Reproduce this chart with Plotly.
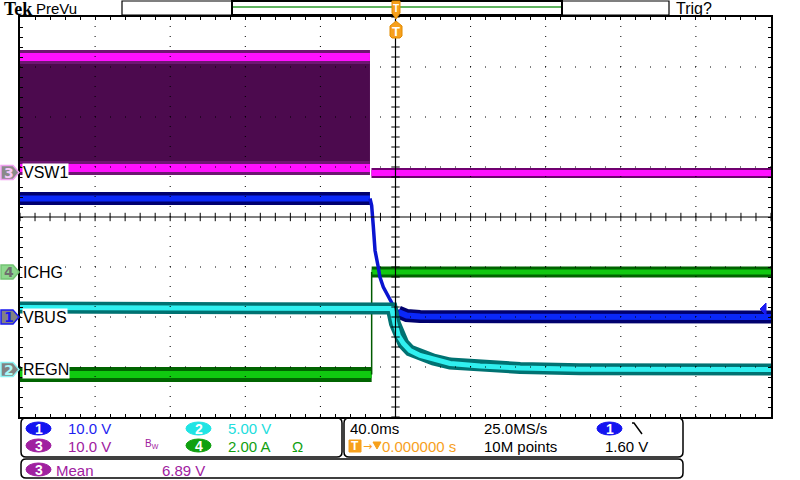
import numpy as np
import plotly.graph_objects as go

# ------------------------------------------------------------------ data
# horizontal: 40.0 ms/div, 10 divisions, trigger point at screen centre
time_range_ms = [-200.0, 200.0]
ms_per_div = 40.0

# channel settings: units per division, ground-marker position (divisions)
ch1_scale, ch1_pos = 10.0, -2.0    # CH1 VBUS   10.0 V/div
ch2_scale, ch2_pos = 5.0, -3.05    # CH2 REGN   5.00 V/div
ch3_scale, ch3_pos = 10.0, 0.89    # CH3 VSW1   10.0 V/div
ch4_scale, ch4_pos = 2.0, -1.1     # CH4 ICHG   2.00 A/div

# CH3 VSW1 : switching envelope, then switching stops
vsw_sw_t = [-200.0, -13.6]
vsw_sw_high = [23.1, 23.1]
vsw_sw_low = [0.9, 0.9]
vsw_off_t = [-12.8, 200.0]
vsw_off_v = [-0.1, -0.1]

# CH1 VBUS
vbus_pre_t = [-200.0, -13.6]
vbus_pre_v = [23.7, 23.7]
vbus_fall_t = [-13.6, -12.7, -11.8, -10.9, -9.2, -8.3, -6.5, -3.8, -1.2, 1.5, 6.0]
vbus_fall_v = [23.7, 22.3, 18.0, 13.3, 10.0, 8.0, 6.0, 4.0, 2.3, 1.0, 0.3]
vbus_post_t = [1.5, 6.0, 13.1, 200.0]
vbus_post_v = [1.0, 0.3, 0.1, 0.0]
trig_level_v = 1.60

# CH2 REGN
regn_t = [-200.0, -2.9, -2.0, -0.3, 1.5, 4.2, 7.7, 13.1, 20.2, 29.1, 45.1, 66.4, 98.4, 200.0]
regn_v = [6.2, 6.2, 6.1, 4.6, 3.4, 2.6, 1.9, 1.4, 1.0, 0.6, 0.35, 0.15, 0.03, 0.0]

# CH4 ICHG
ichg_pre_t = [-200.0, -12.7]
ichg_pre_i = [-4.1, -4.1]
ichg_post_t = [-12.7, 200.0]
ichg_post_i = [0.0, 0.0]
ichg_step_t = [-12.7, -12.7]
ichg_step_i = [-4.1, 0.0]

# ------------------------------------------------------------------ layout helpers
L, T, W, H = 20, 17, 751, 400
NARROW = "Liberation Sans Narrow, Arial Narrow, Liberation Sans, sans-serif"


def X(x):
    return (x - L) / W


def Y(y):
    return (T + H - y) / H


def to_div(vals, scale, pos):
    return [pos + v / scale for v in vals]


fig = go.Figure()


def line(t, y, color, width, name=""):
    fig.add_trace(go.Scatter(x=t, y=y, mode="lines", line=dict(color=color, width=width),
                             hoverinfo="skip", showlegend=False, name=name))


def band(t, vals, scale, pos, dark, bright, wd, wb):
    y = to_div(vals, scale, pos)
    line(t, y, dark, wd)
    line(t, y, bright, wb)


# CH3 VSW1 switching envelope (filled)
lo = to_div(vsw_sw_low, ch3_scale, ch3_pos)
hi = to_div(vsw_sw_high, ch3_scale, ch3_pos)
fig.add_trace(go.Scatter(x=vsw_sw_t, y=lo, mode="lines", line=dict(width=0, color="#4C0A4E"),
                         hoverinfo="skip", showlegend=False))
fig.add_trace(go.Scatter(x=vsw_sw_t, y=hi, mode="lines", line=dict(width=0, color="#4C0A4E"),
                         fill="tonexty", fillcolor="#4C0A4E", hoverinfo="skip", showlegend=False))
band(vsw_sw_t, vsw_sw_high, ch3_scale, ch3_pos, "#6E1672", "#FF10FF", 14, 8)
band(vsw_sw_t, vsw_sw_low, ch3_scale, ch3_pos, "#6E1672", "#FF10FF", 14, 8)
band(vsw_off_t, vsw_off_v, ch3_scale, ch3_pos, "#700070", "#FF10FF", 10, 6)

# CH4 ICHG
band(ichg_pre_t, ichg_pre_i, ch4_scale, ch4_pos, "#006400", "#10C810", 15, 7)
band(ichg_post_t, ichg_post_i, ch4_scale, ch4_pos, "#006400", "#10C810", 11, 5)
line(ichg_step_t, to_div(ichg_step_i, ch4_scale, ch4_pos), "#005A00", 1.5)

# CH1 VBUS
band(vbus_pre_t, vbus_pre_v, ch1_scale, ch1_pos, "#00006E", "#0A28F8", 13, 6)
line(vbus_fall_t, to_div(vbus_fall_v, ch1_scale, ch1_pos), "#0A14D0", 3.5)
band(vbus_post_t, vbus_post_v, ch1_scale, ch1_pos, "#00006E", "#0A28F8", 13, 6)

# CH2 REGN
band(regn_t, regn_v, ch2_scale, ch2_pos, "#007272", "#30F0F0", 12, 5)

# centre cross-hair ticks (graticule)
minor_t = np.arange(time_range_ms[0], time_range_ms[1] + 0.1, ms_per_div / 5)
minor_y = np.arange(-4.0, 4.01, 0.2)
fig.add_trace(go.Scatter(x=minor_t, y=np.zeros_like(minor_t), mode="markers",
                         marker=dict(symbol="line-ns", size=6, line=dict(color="black", width=1)),
                         hoverinfo="skip", showlegend=False))
fig.add_trace(go.Scatter(x=np.zeros_like(minor_y), y=minor_y, mode="markers",
                         marker=dict(symbol="line-ew", size=6, line=dict(color="black", width=1)),
                         hoverinfo="skip", showlegend=False))

shapes = []
annotations = []

# dotted graticule, drawn over the traces
for k in range(-4, 5):
    if k == 0:
        continue
    shapes.append(dict(type="line", xref="x", yref="y", x0=k * ms_per_div, x1=k * ms_per_div,
                       y0=-4, y1=4, layer="above", line=dict(color="black", width=1, dash="1px,9px")))
for k in range(-3, 4):
    if k == 0:
        continue
    shapes.append(dict(type="line", xref="x", yref="y", x0=time_range_ms[0], x1=time_range_ms[1],
                       y0=k, y1=k, layer="above", line=dict(color="black", width=1, dash="1px,14px")))
shapes.append(dict(type="line", xref="x", yref="y", x0=0, x1=0, y0=-4, y1=4, layer="above",
                   line=dict(color="black", width=1.2)))
shapes.append(dict(type="line", xref="x", yref="y", x0=time_range_ms[0], x1=time_range_ms[1],
                   y0=0, y1=0, layer="above", line=dict(color="black", width=1.2)))


def txt(x, y, s, color="black", size=15, family=NARROW, anchor="left", bg=None):
    a = dict(xref="paper", yref="paper", x=X(x), y=Y(y), text=s, showarrow=False,
             xanchor=anchor, yanchor="middle", font=dict(family=family, size=size, color=color),
             borderpad=0)
    if bg:
        a["bgcolor"] = bg
    annotations.append(a)


def rrect(x0, y0, x1, y1, r=5, color="black", width=1.5):
    p = (f"M {X(x0 + r)},{Y(y0)} L {X(x1 - r)},{Y(y0)} Q {X(x1)},{Y(y0)} {X(x1)},{Y(y0 + r)} "
         f"L {X(x1)},{Y(y1 - r)} Q {X(x1)},{Y(y1)} {X(x1 - r)},{Y(y1)} "
         f"L {X(x0 + r)},{Y(y1)} Q {X(x0)},{Y(y1)} {X(x0)},{Y(y1 - r)} "
         f"L {X(x0)},{Y(y0 + r)} Q {X(x0)},{Y(y0)} {X(x0 + r)},{Y(y0)} Z")
    shapes.append(dict(type="path", xref="paper", yref="paper", path=p, layer="above",
                       line=dict(color=color, width=width)))


def oval(x0, y0, x1, y1, fill, digit):
    shapes.append(dict(type="circle", xref="paper", yref="paper", x0=X(x0), x1=X(x1), y0=Y(y1),
                       y1=Y(y0), fillcolor=fill, line=dict(color=fill, width=1), layer="above"))
    txt((x0 + x1) / 2, (y0 + y1) / 2 + 0.5, f"<b>{digit}</b>", "white", 14,
        "Liberation Sans, sans-serif", anchor="center")


def poly(points, fill, lc=None, lw=1):
    p = "M " + " L ".join(f"{X(a)},{Y(b)}" for a, b in points) + " Z"
    shapes.append(dict(type="path", xref="paper", yref="paper", path=p, fillcolor=fill,
                       line=dict(color=lc or fill, width=lw), layer="above"))


# ---- top bar
txt(3, 8.5, "<b>Tek</b>", "black", 18, "Liberation Serif, serif")
txt(35, 8.5, "PreVu", "black", 15)
txt(675, 8.5, "Trig?", "black", 16)
shapes.append(dict(type="rect", xref="paper", yref="paper", x0=X(122), x1=X(669), y0=Y(15), y1=Y(1),
                   line=dict(color="black", width=1.2), layer="above"))
shapes.append(dict(type="line", xref="paper", yref="paper", x0=X(233), x1=X(561), y0=Y(7), y1=Y(7),
                   line=dict(color="#2A9A2A", width=1.5), layer="above"))
shapes.append(dict(type="rect", xref="paper", yref="paper", x0=X(232), x1=X(562), y0=Y(15), y1=Y(1),
                   line=dict(color="black", width=2), layer="above"))
ORANGE = "#F7A01C"
poly([(392, 1), (400, 1), (400, 13), (396, 19), (392, 13)], ORANGE, "#E08A00")
poly([(396, 21), (402, 26), (402, 36), (400, 38), (392, 38), (390, 36), (390, 26)], ORANGE, "#E08A00")
txt(396, 8, "<b>T</b>", "white", 10, "Liberation Sans, sans-serif", anchor="center")
txt(396, 31, "<b>T</b>", "white", 13, "Liberation Sans, sans-serif", anchor="center")

# ---- channel ground markers and labels
markers = [
    (ch3_pos, "3", "#8A8A8A", "#F0A0F0", "#F8C8F8", "VSW1"),
    (ch4_pos, "4", "#8ED88E", "#74C474", "#6E6E6E", "ICHG"),
    (ch1_pos, "1", "#828282", "#1A1AF0", "#1A1AF0", "VBUS"),
    (ch2_pos, "2", "#828282", "#8AF2F2", "#A8F8F8", "REGN"),
]
for pos, d, fill, border, dcol, label in markers:
    shapes.append(dict(type="path", xref="paper", yref="y", xsizemode="pixel", ysizemode="pixel",
                       xanchor=0, yanchor=pos, path="M -19,7 L -7,7 L -1,0 L -7,-7 L -19,-7 Z",
                       fillcolor=fill, line=dict(color=border, width=1.5), layer="above"))
    annotations.append(dict(xref="paper", yref="y", x=X(8.5), y=pos, text=f"<b>{d}</b>", showarrow=False,
                            xanchor="center", yanchor="middle",
                            font=dict(family="DejaVu Sans, sans-serif", size=14, color=dcol)))
    annotations.append(dict(xref="paper", yref="y", x=X(21.5), y=pos, text=label, showarrow=False,
                            xanchor="left", yanchor="middle", bgcolor="white", borderpad=0,
                            font=dict(family=NARROW, size=16, color="black")))

# trigger level arrow (CH1) at right edge
shapes.append(dict(type="path", xref="paper", yref="y", xsizemode="pixel", ysizemode="pixel",
                   xanchor=1, yanchor=ch1_pos + trig_level_v / ch1_scale,
                   path="M -11,0 L -5,6 L -5,-6 Z", fillcolor="#1A1AF0",
                   line=dict(color="#1A1AF0", width=1), layer="above"))

# ---- bottom readout panels
rrect(21, 418, 342, 457)
rrect(344, 418, 683, 457)
rrect(21, 459, 683, 478)
BLUE, CYAN, PURP, GREEN = "#1E1EF0", "#22DDDD", "#A020A0", "#10A010"
r1, r2, r3 = 428.5, 446, 470
oval(26, 422, 51, 435, "#1414F0", "1")
txt(67, r1, "10.0 V", BLUE)
oval(186, 422, 211, 435, "#20E4E4", "2")
txt(227, r1, "5.00 V", CYAN)
oval(26, 439, 51, 452, PURP, "3")
txt(67, r2, "10.0 V", PURP)
txt(144, 444, "B<sub>W</sub>", PURP, 10)
oval(186, 439, 211, 452, GREEN, "4")
txt(227, r2, "2.00 A", GREEN)
txt(291, r2, "Ω", GREEN, 15)
txt(349, r1, "40.0ms", "black")
txt(483, r1, "25.0MS/s", "black")
oval(597, 422, 622, 435, "#1414F0", "1")
shapes.append(dict(type="path", xref="paper", yref="paper", layer="above",
                   path=f"M {X(632)},{Y(423)} L {X(634)},{Y(423)} L {X(642)},{Y(434)}",
                   line=dict(color="black", width=1.5)))
shapes.append(dict(type="rect", xref="paper", yref="paper", x0=X(349), x1=X(361), y0=Y(452), y1=Y(440),
                   fillcolor=ORANGE, line=dict(color=ORANGE, width=1), layer="above"))
txt(355, r2, "<b>T</b>", "white", 12, "Liberation Sans, sans-serif", anchor="center")
txt(361.5, r2, "→", ORANGE, 11, "DejaVu Sans, sans-serif")
poly([(373, 442), (381, 442), (377, 449)], ORANGE)
txt(381, r2, "0.000000 s", ORANGE)
txt(483, r2, "10M points", "black")
txt(604, r2, "1.60 V", "black")
oval(26, 463, 51, 476, PURP, "3")
txt(55, r3, "Mean", PURP)
txt(161, r3, "6.89 V", PURP)

fig.update_layout(
    width=800, height=480,
    margin=dict(l=L, r=800 - L - W, t=T, b=480 - T - H, pad=0),
    paper_bgcolor="white", plot_bgcolor="white",
    shapes=shapes, annotations=annotations, showlegend=False,
    xaxis=dict(range=time_range_ms, showgrid=False, zeroline=False, showline=True, linecolor="black",
               linewidth=2, mirror="ticks", ticks="inside", ticklen=3, tickcolor="black",
               dtick=ms_per_div / 5, tick0=0, showticklabels=False, fixedrange=True),
    yaxis=dict(range=[-4, 4], showgrid=False, zeroline=False, showline=True, linecolor="black",
               linewidth=2, mirror="ticks", ticks="inside", ticklen=3, tickcolor="black",
               dtick=0.2, tick0=0, showticklabels=False, fixedrange=True),
)

fig.write_html("out.html")
